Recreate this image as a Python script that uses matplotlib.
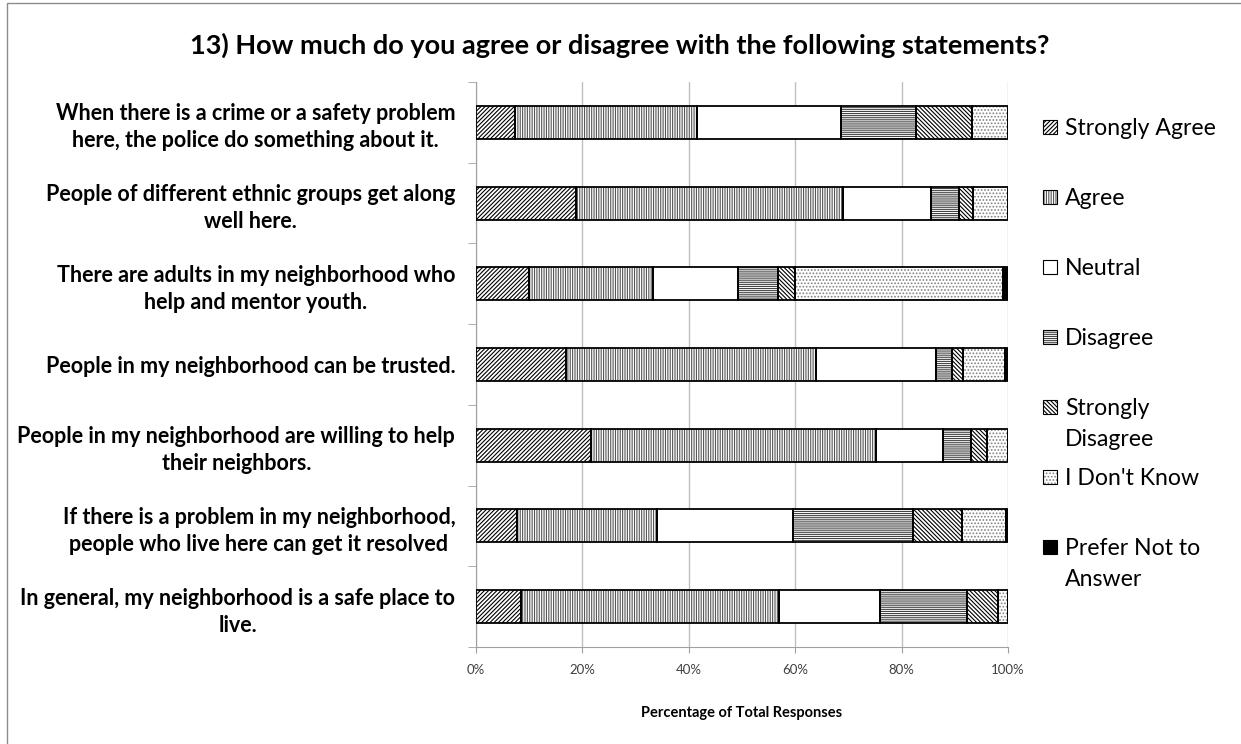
import numpy as np
import matplotlib.pyplot as plt
from matplotlib.patches import Rectangle

plt.rcParams['font.family'] = ['Lato', 'DejaVu Sans']
plt.rcParams['hatch.linewidth'] = 0.8

title = '13) How much do you agree or disagree with the following statements?'

statements = [
    'When there is a crime or a safety problem\nhere, the police do something about it.',
    'People of different ethnic groups get along\nwell here.',
    'There are adults in my neighborhood who\nhelp and mentor youth.',
    'People in my neighborhood can be trusted.',
    'People in my neighborhood are willing to help\ntheir neighbors.',
    'If there is a problem in my neighborhood,\npeople who live here can get it resolved',
    'In general, my neighborhood is a safe place to\nlive.',
]

responses = ['Strongly Agree', 'Agree', 'Neutral', 'Disagree',
             'Strongly\nDisagree', "I Don't Know", 'Prefer Not to\nAnswer']

# percent of responses, one list per answer, statements top to bottom
strongly_agree = [7.3, 18.8, 10.0, 17.0, 21.7, 7.7, 8.4]
agree = [34.3, 50.2, 23.3, 46.9, 53.5, 26.4, 48.5]
neutral = [27.0, 16.5, 16.0, 22.6, 12.5, 25.5, 19.1]
disagree = [14.2, 5.3, 7.4, 3.0, 5.4, 22.5, 16.2]
strongly_disagree = [10.4, 2.6, 3.2, 2.0, 3.0, 9.2, 5.9]
dont_know = [6.8, 6.6, 39.2, 7.9, 3.9, 8.3, 1.9]
prefer_not = [0.0, 0.0, 0.9, 0.6, 0.0, 0.4, 0.0]

series = [strongly_agree, agree, neutral, disagree,
          strongly_disagree, dont_know, prefer_not]

# (face, hatch, hatch colour)
styles = [
    ('white', '////////', 'black'),
    ('white', '|||||||', '#555555'),
    ('white', None, 'white'),
    ('white', '--------', '#444444'),
    ('white', '\\' * 8, 'black'),
    ('white', '.....', '#808080'),
    ('black', None, 'black'),
]

W, H = 1241, 744
fig = plt.figure(figsize=(W / 100, H / 100), dpi=100)
ax = fig.add_axes([476 / W, 1 - 647 / H, 532 / W, 565 / H])

y = np.arange(len(statements))
left = np.zeros(len(statements))
for vals, (face, hatch, hcol) in zip(series, styles):
    vals = np.array(vals)
    ax.barh(y, vals, left=left, height=0.41, color=face, edgecolor=hcol,
            hatch=hatch, linewidth=0, zorder=2)
    ax.barh(y, vals, left=left, height=0.41, fill=False, edgecolor='black',
            linewidth=1.3, zorder=3)
    left += vals

ax.set_xlim(0, 100)
ax.set_ylim(len(statements) - 0.5, -0.5)
ax.set_xticks(np.arange(0, 101, 20))
ax.set_xticklabels([f'{v}%' for v in range(0, 101, 20)], fontsize=9.5, color='#404040')
ax.tick_params(axis='x', length=4, color='#a0a0a0', pad=8)
ax.grid(axis='x', color='#c0c0c0', linewidth=1, zorder=0)

ax.set_yticks(y)
ax.set_yticklabels(statements, fontsize=15.5, fontweight='bold',
                   multialignment='center', linespacing=1.35)
ax.set_yticks(np.arange(len(statements) + 1) - 0.5, minor=True)
ax.tick_params(axis='y', which='major', length=0, pad=15)
ax.tick_params(axis='y', which='minor', length=6, color='#a0a0a0')

for side in ['top', 'right']:
    ax.spines[side].set_visible(False)
for side in ['left', 'bottom']:
    ax.spines[side].set_color('#a0a0a0')

ax.set_xlabel('Percentage of Total Responses', fontsize=10.5, fontweight='bold', labelpad=22)

fig.text(620 / W, 1 - 45 / H, title, ha='center', va='center', fontsize=19.5, fontweight='bold')

# legend
for i, (name, (face, hatch, hcol)) in enumerate(zip(responses, styles)):
    cy = 127 + 70 * i
    box = (1043 / W, 1 - (cy + 7) / H)
    fig.add_artist(Rectangle(box, 14 / W, 14 / H, transform=fig.transFigure,
                             facecolor=face, edgecolor=hcol, hatch=hatch, linewidth=0))
    fig.add_artist(Rectangle(box, 14 / W, 14 / H, transform=fig.transFigure,
                             fill=False, edgecolor='black', linewidth=0.8))
    for j, line in enumerate(name.split('\n')):
        fig.text(1065 / W, 1 - (cy + 8 + 31 * j) / H, line, ha='left', va='baseline',
                 fontsize=16.6)

# chart border (left and top visible)
fig.add_artist(Rectangle((7 / W, -0.1), 1.2, 1 - 3 / H + 0.1, transform=fig.transFigure,
                         fill=False, edgecolor='#8c8c8c', linewidth=1))

fig.savefig('out.png', dpi=100)
